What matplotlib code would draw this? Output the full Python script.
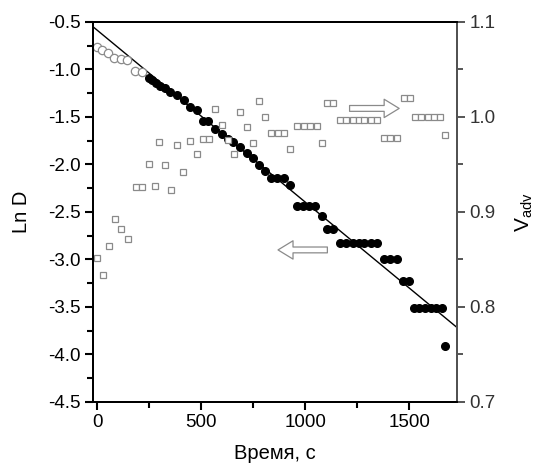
import numpy as np
import matplotlib
matplotlib.use('Agg')
import matplotlib.pyplot as plt
from matplotlib.ticker import MultipleLocator

plt.rcParams['font.family'] = ['Liberation Sans', 'DejaVu Sans']
plt.rcParams['mathtext.fontset'] = 'custom'
plt.rcParams['mathtext.rm'] = 'Liberation Sans'
plt.rcParams['mathtext.it'] = 'Liberation Sans:italic'

# Ln D, early stage (open circles)
t_open = [0, 22, 54, 83, 114, 143, 183, 215]
lnd_open = [-0.76, -0.79, -0.83, -0.88, -0.89, -0.90, -1.02, -1.03]

# Ln D, fitted stage (filled circles)
t_fill = [247, 263, 284, 303, 327, 351, 383, 418, 447, 479, 508, 535, 567, 599,
          628, 655, 687, 720, 748, 780, 808, 837, 864, 896, 928,
          960, 989, 1019, 1048, 1080, 1104, 1133,
          1168, 1197, 1228, 1257, 1285, 1316, 1345, 1380, 1409, 1441, 1470, 1499,
          1521, 1548, 1577, 1604, 1631, 1657, 1670]
lnd_fill = [-1.09, -1.11, -1.14, -1.17, -1.20, -1.235, -1.27, -1.32, -1.40, -1.43,
            -1.54, -1.54, -1.63, -1.675, -1.73, -1.76, -1.82, -1.88, -1.93, -2.01,
            -2.07, -2.14, -2.14, -2.14, -2.22,
            -2.44, -2.44, -2.44, -2.44, -2.54, -2.68, -2.68,
            -2.825, -2.825, -2.825, -2.825, -2.825, -2.825, -2.825, -3.0, -3.0, -3.0,
            -3.23, -3.23,
            -3.51, -3.51, -3.51, -3.51, -3.51, -3.51, -3.91]

# linear fit
fit_a = -0.586
fit_b = -0.00181

# V_adv (open squares, right axis)
t_v = [0, 27, 58, 87, 115, 148, 187, 215, 247, 276, 298, 327, 356, 386, 415, 447,
       479, 508, 538, 567, 599, 628, 659, 687, 720, 748, 779, 808, 837, 867, 896,
       928, 960, 992, 1024, 1056, 1080, 1107, 1136,
       1168, 1197, 1228, 1257, 1285, 1316, 1345, 1380, 1409, 1441, 1473, 1502,
       1529, 1558, 1588, 1617, 1646, 1673]
v_adv = [0.852, 0.834, 0.864, 0.893, 0.882, 0.872, 0.926, 0.926, 0.950, 0.927,
         0.974, 0.949, 0.923, 0.970, 0.942, 0.975, 0.961, 0.977, 0.977, 1.008,
         0.992, 0.976, 0.961, 1.005, 0.989, 0.973, 1.017, 1.000, 0.983, 0.983,
         0.983, 0.966, 0.990, 0.990, 0.990, 0.990, 0.973, 1.015, 1.015,
         0.997, 0.997, 0.997, 0.997, 0.997, 0.997, 0.997, 0.978, 0.978, 0.978,
         1.020, 1.020, 1.000, 1.000, 1.000, 1.000, 1.000, 0.981]

fig = plt.figure(figsize=(5.39, 4.63), dpi=100)
ax = fig.add_axes([0.1725, 0.132, 0.6755, 0.8205])
ax2 = ax.twinx()

xlim = (-20, 1730)
tt = np.array(xlim)
ax.plot(tt, fit_a + fit_b * tt, color='black', lw=1.0, zorder=3)
ax.plot(t_open, lnd_open, 'o', ms=6, mfc='white', mec='#8a8a8a', mew=0.9, zorder=4)
ax.plot(t_fill, lnd_fill, 'o', ms=5.5, mfc='black', mec='black', zorder=5)
ax2.plot(t_v, v_adv, 's', ms=4.6, mfc='white', mec='#8a8a8a', mew=0.9)

ax.set_xlim(*xlim)
ax.set_ylim(-4.5, -0.5)
ax2.set_ylim(0.7, 1.1)

ax.xaxis.set_major_locator(MultipleLocator(500))
ax.xaxis.set_minor_locator(MultipleLocator(250))
ax.yaxis.set_major_locator(MultipleLocator(0.5))
ax.yaxis.set_minor_locator(MultipleLocator(0.25))
ax2.yaxis.set_major_locator(MultipleLocator(0.1))
ax2.yaxis.set_minor_locator(MultipleLocator(0.05))
ax.yaxis.set_major_formatter(matplotlib.ticker.FormatStrFormatter('%.1f'))
ax2.yaxis.set_major_formatter(matplotlib.ticker.FormatStrFormatter('%.1f'))

for a in (ax, ax2):
    for s in a.spines.values():
        s.set_linewidth(1.4)
ax2.spines['right'].set_color('#555555')
ax.tick_params(which='both', direction='out', labelsize=13.5, width=1.5, top=False, pad=3)
ax.tick_params(which='major', length=6)
ax.tick_params(which='minor', length=4)
ax2.tick_params(which='both', direction='out', labelsize=13.5, width=1.4, color='#555555',
                labelcolor='#333333', pad=3)
ax2.tick_params(which='major', length=6)
ax2.tick_params(which='minor', length=4)

ax.set_xlabel('Время, с', fontsize=14.5, labelpad=9)
ax.set_ylabel('Ln D', fontsize=14.5, labelpad=12)
ax2.set_ylabel(r'V$_{\rm adv}$', fontsize=15, labelpad=13)

# hollow arrows pointing to the corresponding axes
ax2.annotate('', xy=(1465, 1.009), xytext=(1200, 1.009),
             arrowprops=dict(arrowstyle='simple,head_length=0.9,head_width=1.1,tail_width=0.35',
                             fc='white', ec='#8a8a8a', lw=0.9, mutation_scale=12))
ax2.annotate('', xy=(856, (-2.90 + 4.5) / 4 * 0.4 + 0.7), xytext=(1120, (-2.90 + 4.5) / 4 * 0.4 + 0.7),
             arrowprops=dict(arrowstyle='simple,head_length=0.9,head_width=1.1,tail_width=0.35',
                             fc='white', ec='#8a8a8a', lw=0.9, mutation_scale=12))

fig.savefig('out.png', dpi=100)
